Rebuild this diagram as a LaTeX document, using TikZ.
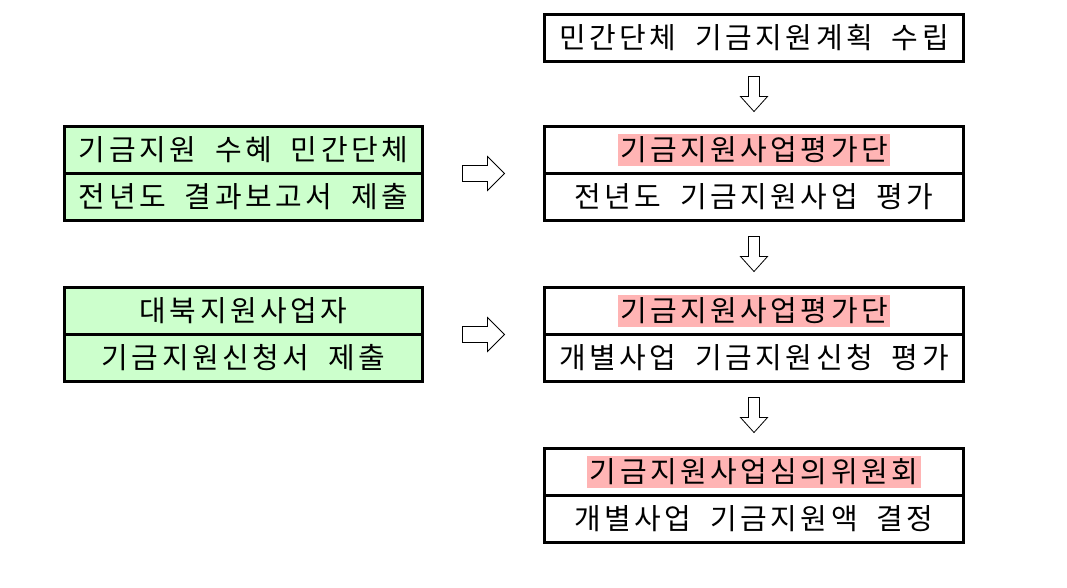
\documentclass[tikz,border=0pt]{standalone}
\usepackage{fontspec}
\setmainfont{Noto Sans CJK KR}[LetterSpace=12,WordSpace=1.9]
\usepackage{tikz}
\usetikzlibrary{positioning,calc}
\definecolor{boxgreen}{RGB}{204,255,204}
\definecolor{hlpink}{RGB}{255,180,180}
\newcommand\hilite[1]{{\setlength{\fboxsep}{2.5pt}\colorbox{hlpink}{#1}}}
\begin{document}
\begin{tikzpicture}[x=1pt,y=-1pt,
  half/.style={draw,line width=3pt,outer sep=0pt,inner sep=0pt,minimum height=47pt,font=\fontsize{29}{31}\selectfont},
  rbox/.style={half,minimum width=419pt},
  lbox/.style={half,minimum width=358pt,fill=boxgreen},
  blockarrow/.style={draw=black,line width=0.8pt,fill=white,line join=miter}]
\useasboundingbox(0,0)rectangle(1067,587);
%
\node[rbox](plan)at(754,38){민간단체 기금지원계획 수립};
%
\node[rbox](evalA)at(754,150){\hilite{기금지원사업평가단}};
\node[rbox,below=0pt of evalA](evalB){전년도 기금지원사업 평가};
\node[rbox](reqA)at(754,311){\hilite{기금지원사업평가단}};
\node[rbox,below=0pt of reqA](reqB){개별사업 기금지원신청 평가};
\node[rbox](decA)at(754,472){\hilite{기금지원사업심의위원회}};
\node[rbox,below=0pt of decA](decB){개별사업 기금지원액 결정};
%
\node[lbox](grpA)at(243.5,150){기금지원 수혜 민간단체};
\node[lbox,below=0pt of grpA](grpB){전년도 결과보고서 제출};
\node[lbox](appA)at(243.5,311){대북지원사업자};
\node[lbox,below=0pt of appA](appB){기금지원신청서 제출};
%
\coordinate(d1)at($(plan.south)!0.5!(evalA.north)$);
\coordinate(d2)at($(evalB.south)!0.5!(reqA.north)$);
\coordinate(d3)at($(reqB.south)!0.5!(decA.north)$);
\foreach \c in {d1,d2,d3}
  \draw[blockarrow,shift={(\c)}](-5.5,-17.5)--(5.5,-17.5)--(5.5,2.5)--(13.5,2.5)--(0,17.5)--(-13.5,2.5)--(-5.5,2.5)--cycle;
%
\coordinate(r1)at($(grpA.south east)!0.5!(evalA.south west)$);
\coordinate(r2)at($(appA.south east)!0.5!(reqA.south west)$);
\foreach \c in {r1,r2}
  \draw[blockarrow,shift={(\c)}](-21,-8)--(4,-8)--(4,-17)--(21,0)--(4,17)--(4,8)--(-21,8)--cycle;
\end{tikzpicture}
\end{document}
